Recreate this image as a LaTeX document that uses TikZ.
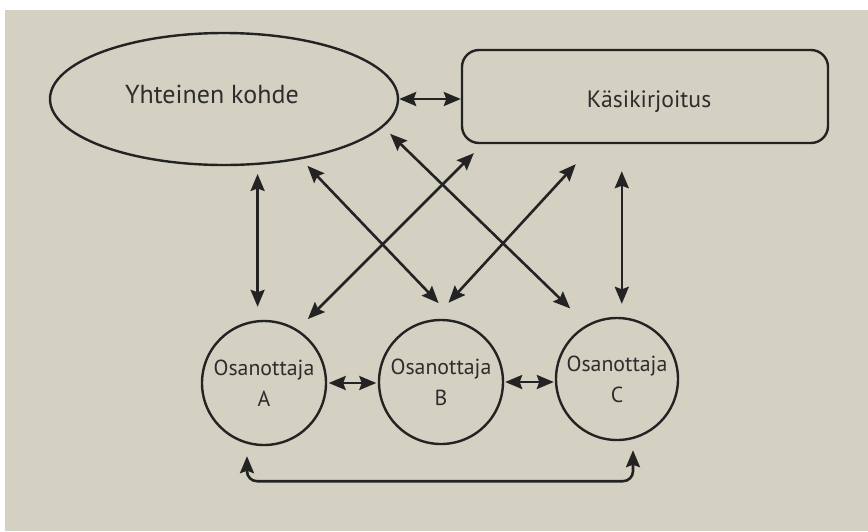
\documentclass[tikz,border=0pt]{standalone}
\usepackage{fontspec}
\setmainfont{PT Sans}
\usetikzlibrary{shapes.geometric,arrows.meta,calc}
\definecolor{paper}{RGB}{212,209,195}
\definecolor{ink}{RGB}{35,35,35}
\definecolor{txt}{RGB}{45,45,45}
\begin{document}
\begin{tikzpicture}[x=1pt,y=-1pt,
  outline/.style={draw=ink, line width=2.4pt, text=txt, inner sep=0pt},
  arr/.style={draw=ink, line width=2.6pt,
    arrows={Stealth[length=17pt,width=14pt,inset=2.5pt]-Stealth[length=17pt,width=14pt,inset=2.5pt]}},
  party/.style={outline, circle, align=center, font=\fontsize{21.8}{31}\selectfont}]
% page and photographed paper
\fill[white] (0,0) rectangle (868,531);
\fill[paper] (5,10) rectangle (868,531);
\useasboundingbox (0,0) rectangle (868,531);

% top row
\node[outline, ellipse, minimum width=348pt, minimum height=132pt,
      text height=18.2pt, text depth=9pt,
      font=\fontsize{26}{30}\selectfont] (yk) at (224,99) {\kern-24pt Yhteinen kohde};
\node[outline, rectangle, rounded corners=17pt, minimum width=366pt, minimum height=93pt,
      text height=22.6pt, text depth=0pt,
      font=\fontsize{23.7}{28}\selectfont] (ks) at (645,96.5) {\kern8pt Käsikirjoitus};

% participants
\node[party, minimum size=124pt] (A) at (264,383) {Osanottaja\\A};
\node[party, minimum size=124pt] (B) at (441,382) {Osanottaja\\B};
\node[party, minimum size=122pt] (C) at (617,379) {Osanottaja\\C};

\coordinate (kfA) at ($(ks.south west)+(22,0)$);
\coordinate (kfB) at ($(ks.south west)+(133.3,0)$);
\coordinate (kfC) at ($(ks.south west)+(161,0)$);

% connectors
\draw[arr] (yk.east) -- (yk.east -| ks.west);
\draw[arr, shorten <=9pt, shorten >=13pt] (yk.-63) -- (yk.-63 |- A.north);
\draw[arr, shorten <=9pt, shorten >=24pt] (yk.-38.7) -- (B.77);
\draw[arr, shorten <=9.7pt, shorten >=23.2pt] (yk.-10.6) -- (C.119.7);
\draw[arr, shorten <=14.6pt, shorten >=12.7pt] (A.58.2) -- (kfA);
\draw[arr, shorten <=22.4pt, shorten >=27.1pt] (B.97.6) -- (kfB);
\draw[arr, shorten <=27pt, shorten >=13pt] (kfC) -- (kfC |- C.north);
\draw[arr, shorten <=1.5pt, shorten >=1.5pt] (A.east) -- (A.east -| B.west);
\draw[arr, shorten <=1pt, shorten >=1pt] (B.east) -- (B.east -| C.west);
\draw[arr, rounded corners=10pt] ($(A.south)+(-17,10)$) -- ++(0,25) -| ($(C.south)+(16,9)$);
\end{tikzpicture}
\end{document}
